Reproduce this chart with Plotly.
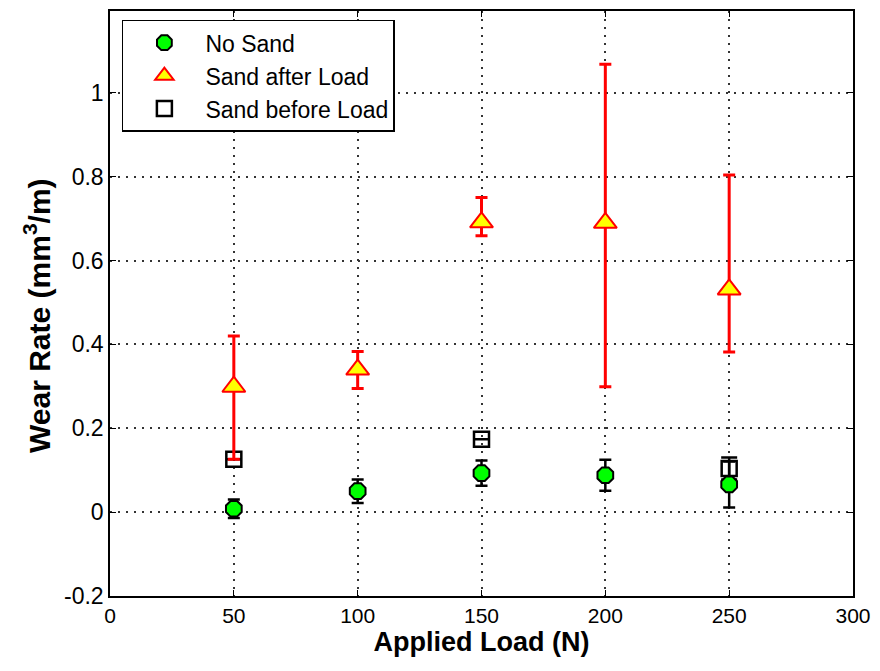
import plotly.graph_objects as go

loads = [50, 100, 150, 200, 250]

no_sand = [0.008, 0.050, 0.093, 0.088, 0.066]
no_sand_err = [0.022, 0.028, 0.030, 0.037, 0.055]

after_load = [0.299, 0.340, 0.691, 0.690, 0.531]
after_err_plus = [0.121, 0.043, 0.059, 0.378, 0.273]
after_err_minus = [0.173, 0.045, 0.032, 0.391, 0.149]

before_x = [50, 150, 250]
before_load = [0.126, 0.174, 0.104]
before_err = [None, None, 0.026]

x_ticks = [0, 50, 100, 150, 200, 250, 300]
y_ticks = [-0.2, 0, 0.2, 0.4, 0.6, 0.8, 1]
y_tick_text = ["-0.2", "0", "0.2", "0.4", "0.6", "0.8", "1"]

FONT = "Liberation Sans, Arial"

fig = go.Figure()

fig.add_trace(go.Scatter(
    x=before_x, y=before_load, mode="markers", name="Sand before Load",
    legendrank=3,
    marker=dict(symbol="square-open", size=15, color="black", line=dict(width=2.5, color="black")),
    error_y=dict(type="data", array=before_err, color="black", thickness=2.5, width=8),
))
fig.add_trace(go.Scatter(
    x=loads, y=no_sand, mode="markers", name="No Sand",
    legendrank=1,
    marker=dict(symbol="octagon", size=17, color="#00ff00", line=dict(width=2, color="black")),
    error_y=dict(type="data", array=no_sand_err, color="black", thickness=2.5, width=6),
))
fig.add_trace(go.Scatter(
    x=loads, y=after_load, mode="markers", name="Sand after Load",
    legendrank=2,
    marker=dict(symbol="triangle-up", size=20, color="#ffff00", line=dict(width=2, color="red")),
    error_y=dict(type="data", symmetric=False, array=after_err_plus, arrayminus=after_err_minus,
                 color="red", thickness=3, width=6),
))

axis_common = dict(
    showline=True, linecolor="black", linewidth=1.5, mirror="ticks",
    ticks="inside", ticklen=6, tickcolor="black",
    showgrid=True, gridcolor="#333333", griddash="1.5px,6.5px", gridwidth=1.5,
    zeroline=False,
)

fig.update_xaxes(
    range=[0, 300], tickvals=x_ticks,
    tickfont=dict(family=FONT, size=21, color="black"),
    title=dict(text="<b>Applied Load (N)</b>", font=dict(family=FONT, size=27, color="black"), standoff=4),
    **axis_common,
)
fig.update_yaxes(
    range=[-0.2, 1.195], tickvals=y_ticks, ticktext=y_tick_text,
    tickfont=dict(family=FONT, size=23, color="black"),
    **axis_common,
)

fig.add_annotation(
    text="<b>Wear Rate (mm<sup>3</sup>/m)</b>", textangle=-90,
    xref="paper", yref="paper", x=-0.098, y=0.479,
    xanchor="center", yanchor="middle", showarrow=False,
    font=dict(family=FONT, size=30, color="black"),
)

fig.update_layout(
    width=880, height=671,
    margin=dict(l=110, r=25, t=9, b=75),
    paper_bgcolor="white", plot_bgcolor="white",
    showlegend=True,
    legend=dict(
        x=0.016, y=0.985, xanchor="left", yanchor="top",
        bgcolor="white", bordercolor="black", borderwidth=1.5,
        font=dict(family=FONT, size=23, color="black"),
        itemwidth=72, tracegroupgap=0,
    ),
)

fig.write_html("out.html")
